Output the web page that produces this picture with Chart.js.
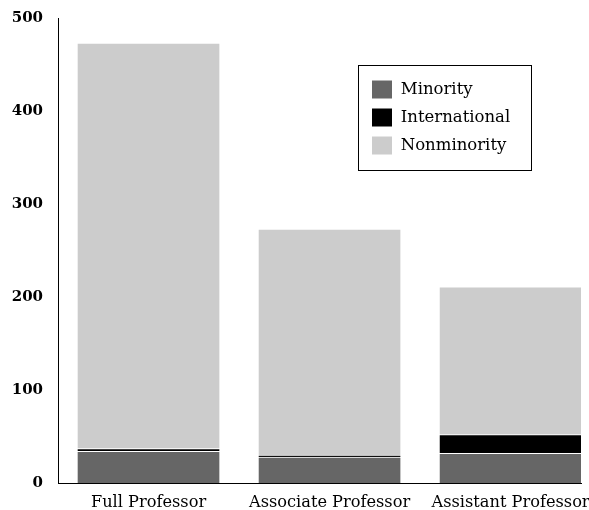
<!DOCTYPE html>
<html>
<head>
<meta charset="utf-8">
<script src="https://cdn.jsdelivr.net/npm/chart.js@4/dist/chart.umd.min.js"></script>
<style>
  html, body { margin: 0; padding: 0; background: #fff; }
  canvas { display: block; }
</style>
</head>
<body>
<canvas id="c" width="589" height="510"></canvas>
<script>
const categories = ['Full Professor', 'Associate Professor', 'Assistant Professor'];
const minority = [34, 28, 32];
const international = [3, 2, 20];
const nonminority = [436, 243, 159];
const yTicks = [0, 100, 200, 300, 400, 500];

const FONT = "'DejaVu Serif', serif";

const toPoints = arr => arr.map((v, i) => ({ x: i, y: v }));

const legendPlacer = {
  id: 'legendPlacer',
  afterLayout(chart) {
    const lg = chart.legend;
    lg.left = 362.5; lg.top = 71;
    lg.right = lg.left + 160; lg.bottom = lg.top + 95;
    lg.width = 160; lg.height = 95;
  },
  afterDraw(chart) {
    const lg = chart.legend;
    const ctx = chart.ctx;
    ctx.save();
    ctx.strokeStyle = '#000';
    ctx.lineWidth = 1;
    ctx.strokeRect(lg.left - 4, lg.top - 5.5, 173, 105);
    ctx.restore();
  }
};

new Chart(document.getElementById('c'), {
  type: 'bar',
  data: {
    datasets: [
      { label: 'Minority', data: toPoints(minority), backgroundColor: '#666666', borderColor: '#ffffff', borderWidth: 1 },
      { label: 'International', data: toPoints(international), backgroundColor: '#000000', borderColor: '#ffffff', borderWidth: 1 },
      { label: 'Nonminority', data: toPoints(nonminority), backgroundColor: '#cccccc', borderColor: '#ffffff', borderWidth: 1 }
    ]
  },
  plugins: [legendPlacer],
  options: {
    responsive: false,
    animation: false,
    barThickness: 143,
    layout: { padding: { top: 18, right: 8, left: 0, bottom: 0 } },
    scales: {
      x: {
        type: 'linear',
        stacked: true,
        offset: false,
        min: -0.5,
        max: 2.389,
        grid: { display: false, drawTicks: false, offset: false },
        border: { display: true, color: '#000', width: 1 },
        afterBuildTicks: s => { s.ticks = categories.map((_, i) => ({ value: i })); },
        afterFit: s => { s.height = 27; s.paddingLeft = 0; s.paddingRight = 0; },
        ticks: {
          padding: 10,
          color: '#000',
          font: { family: FONT, size: 16.2 },
          callback: v => categories[v]
        }
      },
      y: {
        stacked: true,
        min: 0,
        max: 500,
        grid: { display: false, drawTicks: false },
        border: { display: true, color: '#000', width: 1 },
        afterBuildTicks: s => { s.ticks = yTicks.map(v => ({ value: v })); },
        afterFit: s => { s.width = 58; s.paddingTop = 0; s.paddingBottom = 0; },
        ticks: {
          padding: 15,
          color: '#000',
          font: { family: FONT, size: 15, weight: 'bold' }
        }
      }
    },
    plugins: {
      legend: {
        position: 'chartArea',
        align: 'start',
        labels: {
          boxWidth: 21,
          boxHeight: 19,
          padding: 9,
          color: '#000',
          font: { family: FONT, size: 16.5 }
        }
      },
      tooltip: { enabled: false }
    }
  }
});
</script>
</body>
</html>
